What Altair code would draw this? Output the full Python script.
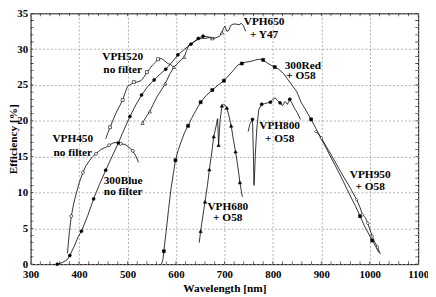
import altair as alt
import pandas as pd

# ---------------- data ----------------
vph450_wl = [376, 380, 384, 389, 394, 400, 408, 414, 421, 428, 435, 445, 455, 462, 470, 478, 486, 495, 503, 511, 517, 523]
vph450_ef = [1.5, 4.5, 6.7, 8.5, 9.8, 11.3, 12.8, 13.7, 14.4, 15.0, 15.4, 16.0, 16.3, 16.6, 16.9, 17.0, 16.8, 16.7, 16.3, 15.8, 15.1, 14.2]
vph450_mk = [384, 408, 435, 462, 486, 511]

blue_wl = [355, 365, 375, 381, 390, 398, 405, 418, 430, 442, 455, 468, 481, 493, 505, 517, 529, 542, 555, 567, 579, 592, 604, 618, 631, 646, 656, 668, 680]
blue_ef = [0.0, 0.2, 0.6, 1.2, 2.5, 3.8, 4.6, 6.8, 9.1, 11.1, 13.1, 15.0, 16.9, 18.8, 20.6, 22.2, 23.6, 24.8, 25.7, 26.5, 27.2, 28.2, 29.2, 30.0, 30.7, 31.5, 31.8, 31.7, 31.5]
blue_mk = [355, 381, 405, 430, 455, 481, 505, 529, 555, 579, 604, 631, 646, 656]

vph520_wl = [455, 460, 464, 470, 477, 484, 490, 495, 500, 507, 513, 520, 528, 535, 540, 546, 552, 558, 563, 570, 576, 583, 590, 596]
vph520_ef = [17.5, 18.4, 19.1, 20.1, 21.2, 22.1, 22.9, 23.9, 24.8, 25.1, 25.4, 25.4, 25.6, 26.2, 26.8, 27.3, 27.8, 28.2, 28.6, 28.7, 28.4, 28.0, 27.8, 27.4]
vph520_mk = [464, 490, 513, 540, 563]

vph650_wl = [531, 538, 546, 553, 562, 570, 578, 587, 596, 606, 617, 622, 627, 635, 644, 652, 660, 668, 675, 683, 690, 695, 698, 701, 705, 709, 713, 718, 724, 730, 735, 739, 742, 744]
vph650_ef = [19.7, 20.5, 21.3, 22.3, 23.5, 24.3, 25.2, 26.5, 27.5, 28.2, 28.9, 29.8, 30.6, 30.9, 31.3, 31.5, 31.5, 31.6, 31.5, 31.6, 31.8, 32.3, 32.9, 33.2, 32.5, 32.6, 33.3, 33.5, 33.5, 33.4, 33.6, 33.3, 32.8, 32.5]
vph650_mk = [531, 546, 578, 596, 617, 675, 695]

red_wl = [570, 573, 575, 580, 585, 590, 595, 599, 605, 612, 618, 625, 632, 640, 651, 662, 675, 687, 699, 710, 718, 728, 736, 745, 755, 765, 772, 780, 790, 798, 804, 812, 822, 835, 849, 859, 869, 879, 890, 900, 920, 940, 960, 970, 980, 990, 998, 1005, 1012, 1019]
red_ef = [0.0, 0.6, 1.8, 4.7, 7.8, 10.6, 12.8, 14.5, 16.0, 17.3, 18.4, 19.3, 20.3, 21.3, 22.6, 23.5, 24.3, 25.0, 25.6, 26.4, 27.0, 27.8, 28.0, 28.2, 28.3, 28.5, 28.6, 28.5, 28.0, 27.7, 27.5, 27.2, 26.6, 25.4, 24.1, 22.5, 21.4, 20.2, 18.8, 17.5, 14.9, 12.3, 9.5, 8.2, 6.7, 5.2, 4.2, 3.3, 2.5, 1.6]
red_mk = [575, 599, 625, 651, 675, 699, 736, 780, 804, 879, 980, 1005]

vph680_wl = [648, 651, 655, 660, 665, 669, 674, 678, 682, 686, 688, 691, 695, 698, 701, 705, 709, 714, 718, 723, 728, 732, 737]
vph680_ef = [3.0, 4.6, 6.5, 8.7, 11.0, 13.2, 15.6, 17.8, 19.0, 20.3, 16.6, 20.0, 22.1, 22.3, 22.2, 21.8, 20.8, 19.3, 17.6, 15.7, 13.5, 11.4, 9.4]
vph680_mk = [651, 660, 669, 678, 688, 695, 705, 714, 723, 732]

vph800_wl = [749, 753, 758, 760, 761, 762, 764, 767, 771, 777, 783, 789, 795, 800, 805, 810, 815, 820, 825, 830, 835, 840, 845, 850, 857]
vph800_ef = [18.5, 19.6, 20.2, 15.0, 11.0, 12.0, 15.5, 19.0, 21.6, 22.3, 22.4, 22.5, 22.6, 23.0, 23.2, 22.8, 22.5, 22.1, 22.7, 22.3, 23.0, 22.4, 21.7, 21.2, 20.2]
vph800_mk = [758, 777, 795, 815, 835]

vph950_wl = [889, 895, 900, 920, 940, 960, 973, 980, 985, 991, 996, 1001, 1005, 1010, 1016, 1022]
vph950_ef = [18.5, 18.1, 17.6, 15.3, 12.9, 10.6, 9.0, 7.9, 6.9, 6.5, 5.7, 4.7, 3.9, 3.1, 2.4, 1.4]
vph950_mk = [889, 900, 973, 985, 996, 1005, 1016]

# label text lines and their anchor positions (wavelength, efficiency)
label_text = ["VPH650", "+ Y47", "VPH520", "no filter", "VPH450", "no filter",
              "300Blue", "no filter", "300Red", "+ O58", "VPH800", "+ O58",
              "VPH680", "+ O58", "VPH950", "+ O58"]
label_wl = [782, 782, 490, 490, 387, 387, 491, 491, 862, 858, 814, 814, 707, 707, 1001, 1001]
label_ef = [33.8, 32.0, 28.9, 27.1, 17.4, 15.5, 11.6, 10.1, 27.7, 26.2, 19.25, 17.5, 7.9, 6.4, 12.4, 10.8]

series_defs = [
    ("VPH450", vph450_wl, vph450_ef, vph450_mk, "circle", False),
    ("300Blue", blue_wl, blue_ef, blue_mk, "circle", True),
    ("VPH520", vph520_wl, vph520_ef, vph520_mk, "square", False),
    ("VPH650", vph650_wl, vph650_ef, vph650_mk, "triangle-up", False),
    ("300Red", red_wl, red_ef, red_mk, "square", True),
    ("VPH680", vph680_wl, vph680_ef, vph680_mk, "triangle-up", True),
    ("VPH800", vph800_wl, vph800_ef, vph800_mk, "circle", True),
    ("VPH950", vph950_wl, vph950_ef, vph950_mk, "diamond", False),
]

x_major = [300, 400, 500, 600, 700, 800, 900, 1000, 1100]
y_major = [0, 5, 10, 15, 20, 25, 30, 35]
x_minor = list(range(300, 1101, 20))
y_minor = list(range(0, 36, 1))

# ---------------- build tables ----------------
rows = []
for name, wl, ef, mk, shape, filled in series_defs:
    for i, (w, e) in enumerate(zip(wl, ef)):
        rows.append({"series": name, "i": i, "wl": w, "eff": e,
                     "mark": w in mk, "shape": shape, "filled": filled})
df = pd.DataFrame(rows)
lab = pd.DataFrame({"t": label_text, "wl": label_wl, "eff": label_ef})

W, H = 394, 255
FONT = "Liberation Serif"

xs = alt.Scale(domain=[300, 1100], nice=False, zero=False)
ys = alt.Scale(domain=[0, 35], nice=False)

xax = alt.Axis(values=x_major, format="d", title="Wavelength [nm]", grid=True, ticks=False,
               domain=False, labelOverlap=False, labelFlush=False, labelPadding=5, titlePadding=3)
yax = alt.Axis(values=y_major, format="d", title="Efficiency [%]", grid=True, ticks=False,
               domain=False, labelOverlap=False, labelFlush=False, labelPadding=3,
               titleX=-17, titleY=H / 2, titleAngle=270, titleBaseline="middle", titleAlign="center")


def X(field):
    return alt.X(field, type="quantitative", scale=xs, axis=xax)


def Y(field):
    return alt.Y(field, type="quantitative", scale=ys, axis=yax)


lines = alt.Chart(df).mark_line(color="black", strokeWidth=0.8).encode(
    x=X("wl"), y=Y("eff"), detail="series:N", order="i:Q")

layers = [lines]
for shape in ["circle", "square", "triangle-up", "diamond"]:
    for filled in [False, True]:
        sub = df[(df["mark"]) & (df["shape"] == shape) & (df["filled"] == filled)]
        if len(sub) == 0:
            continue
        layers.append(alt.Chart(sub).mark_point(
            shape=shape, size=9 if shape != "triangle-up" else 11,
            filled=True, fill="black" if filled else "white",
            stroke="black", strokeWidth=0.6, opacity=1).encode(x=X("wl"), y=Y("eff")))

text = alt.Chart(lab).mark_text(fontWeight="bold", fontSize=11.5,
                                color="black", align="center", baseline="middle").encode(
    x=X("wl"), y=Y("eff"), text="t:N")

# inward tick marks on all four sides
xt = pd.DataFrame({"v": x_minor})
yt = pd.DataFrame({"v": y_minor})
for yv in [0, H]:
    layers.append(alt.Chart(xt).mark_tick(color="black", thickness=0.8, size=6, clip=True).encode(
        x=X("v"), y=alt.value(yv)))
for xv in [0, W]:
    layers.append(alt.Chart(yt).mark_tick(color="black", thickness=0.8, size=6, clip=True).encode(
        y=Y("v"), x=alt.value(xv)))
layers.append(text)

chart = alt.layer(*layers).properties(
    width=W, height=H,
    background="white",
    autosize=alt.AutoSizeParams(type="none"),
    padding={"left": 23, "top": 3, "right": 10, "bottom": 31},
).configure_view(stroke="black", strokeWidth=1).configure_axis(
    gridColor="#9a9a9a", gridDash=[2, 2], gridWidth=0.8,
    labelFont=FONT, labelFontWeight="bold", labelFontSize=11, labelColor="black",
    titleFont=FONT, titleFontWeight="bold", titleFontSize=11.5, titleColor="black",
).configure_text(font=FONT)

chart.save("out.html", embed_options={"renderer": "svg", "actions": False})
